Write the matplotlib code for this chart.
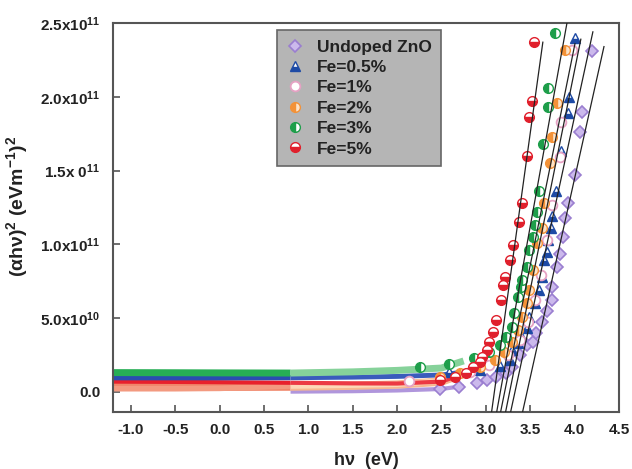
import numpy as np
import matplotlib.pyplot as plt

plt.rcParams['font.family'] = ['Liberation Sans', 'DejaVu Sans']
plt.rcParams['font.weight'] = 'bold'
plt.rcParams['mathtext.fontset'] = 'custom'
plt.rcParams['mathtext.rm'] = 'Liberation Sans:bold'
plt.rcParams['mathtext.bf'] = 'Liberation Sans:bold'
plt.rcParams['mathtext.default'] = 'bf'

# values in units of 1e10 (eV/m)^2
labels = ['Undoped ZnO', 'Fe=0.5%', 'Fe=1%', 'Fe=2%', 'Fe=3%', 'Fe=5%']

# flat, densely sampled part (drawn as thick bands)
band_x = [-1.2, -0.5, 0.0, 0.8, 1.5, 2.0, 2.5, 2.75]
band_undoped = [None, None, None, 0.02, 0.05, 0.10, 0.20, 0.40]
band_fe05 = [0.95, 0.95, 0.95, 0.96, 1.00, 1.05, 1.15, 1.35]
band_fe1 = [0.22, 0.22, 0.24, 0.40, 0.46, 0.52, 0.75, 1.20]
band_fe2 = [0.34, 0.34, 0.35, 0.36, 0.42, 0.50, 0.70, 1.25]
band_fe3 = [1.31, 1.30, 1.29, 1.28, 1.36, 1.46, 1.62, 2.10]
band_fe5 = [0.70, 0.68, 0.66, 0.62, 0.58, 0.57, 0.70, 1.20]

# absorption edge points
x_undoped = [2.48, 2.70, 2.90, 3.01, 3.12, 3.23, 3.30, 3.38, 3.46, 3.53, 3.57, 3.63, 3.69,
             3.74, 3.75, 3.80, 3.83, 3.87, 3.89, 3.92, 4.00, 4.06, 4.08, 4.20]
y_undoped = [0.20, 0.34, 0.61, 0.81, 1.02, 1.29, 1.70, 2.51, 3.19, 3.39, 4.00, 4.75, 5.49,
             6.24, 7.12, 8.48, 9.36, 10.5, 11.8, 12.8, 14.7, 17.6, 19.0, 23.1]
x_fe05 = [2.59, 2.93, 3.16, 3.27, 3.30, 3.36, 3.40, 3.46, 3.49, 3.55, 3.60, 3.63, 3.66,
          3.69, 3.70, 3.73, 3.75, 3.79, 3.85, 3.93, 3.94, 4.00]
y_fe05 = [1.36, 1.49, 1.76, 2.17, 2.85, 3.32, 3.80, 4.34, 5.09, 6.03, 6.92, 7.80, 8.95,
          9.49, 10.3, 11.1, 11.9, 13.6, 16.3, 18.9, 20.0, 24.0]
x_fe1 = [2.14, 2.48, 2.82, 3.04, 3.25, 3.38, 3.47, 3.55, 3.62, 3.69, 3.74, 3.83, 3.85, 3.97]
y_fe1 = [0.75, 0.95, 1.36, 1.83, 2.51, 3.53, 4.75, 6.24, 7.93, 10.3, 12.7, 15.9, 18.3, 23.2]
x_fe2 = [2.48, 2.71, 2.93, 3.10, 3.21, 3.30, 3.36, 3.41, 3.46, 3.49, 3.53, 3.58, 3.63,
         3.66, 3.72, 3.75, 3.80, 3.89]
y_fe2 = [1.02, 1.29, 1.70, 2.17, 2.71, 3.39, 4.20, 5.09, 6.03, 6.92, 8.27, 10.1, 11.1,
         12.8, 15.5, 17.3, 19.6, 23.2]
x_fe3 = [2.26, 2.59, 2.87, 3.04, 3.16, 3.23, 3.29, 3.32, 3.36, 3.40, 3.41, 3.46, 3.49,
         3.53, 3.55, 3.58, 3.60, 3.64, 3.70, 3.70, 3.78]
y_fe3 = [1.70, 1.90, 2.31, 2.71, 3.19, 3.73, 4.41, 5.36, 6.44, 7.12, 7.59, 8.48, 9.63,
         10.5, 11.3, 12.2, 13.6, 16.8, 19.3, 20.6, 24.3]
x_fe5 = [2.48, 2.65, 2.78, 2.85, 2.93, 2.96, 3.01, 3.04, 3.08, 3.12, 3.17, 3.19, 3.22,
         3.27, 3.31, 3.37, 3.41, 3.46, 3.49, 3.52, 3.54]
y_fe5 = [0.81, 1.02, 1.29, 1.70, 2.03, 2.37, 2.85, 3.39, 4.07, 4.88, 6.24, 7.25, 7.80,
         8.95, 9.97, 11.5, 12.8, 16.0, 18.6, 19.7, 23.7]

# linear fits: x-intercept (eV), slope (1e10 per eV), upper end of the drawn line
fit_eg = [3.096, 3.163, 3.212, 3.268, 3.328, 3.464]
fit_slope = [43.4, 33.3, 29.8, 29.8, 27.8, 27.0]
fit_top = [23.7, 25.5, 23.6, 23.9, 24.4, 23.4]

S = 1e10
fig = plt.figure(figsize=(6.32, 4.69), dpi=100)
ax = fig.add_axes([113 / 632, 57 / 469, 506 / 632, 389 / 469])

bx = np.array(band_x)


def band(vals, c_left, c_right, lw):
    v = np.array([np.nan if a is None else a for a in vals], dtype=float) * S
    left = bx <= 0.8
    right = bx >= 0.8
    ax.plot(bx[left], v[left], color=c_left, lw=lw, solid_capstyle='butt', zorder=2)
    ax.plot(bx[right], v[right], color=c_right, lw=lw, solid_capstyle='butt', zorder=2)


band(band_undoped, '#a98bd8', '#b096dc', 3)
band(band_fe2, '#f0866a', '#f7b890', 6)
band(band_fe1, '#f39a80', '#fdd9b8', 4)
band(band_fe5, '#e8202c', '#ec3a44', 3)
band(band_fe05, '#2a4db0', '#3a5cbc', 3.5)
band(band_fe3, '#27ae55', '#86d29a', 5)

ms = 7
ax.plot(x_undoped, np.array(y_undoped) * S, ls='none', marker='D', ms=6,
        mfc='#cbb9ec', mec='#9a7ed0', mew=1.2, label=labels[0], zorder=3)
ax.plot(x_fe05, np.array(y_fe05) * S, ls='none', marker='^', ms=ms, fillstyle='bottom',
        color='#1d4aa5', mfc='#1d4aa5', mfcalt='white', mec='#1d4aa5', label=labels[1], zorder=3)
ax.plot(x_fe1, np.array(y_fe1) * S, ls='none', marker='o', ms=ms,
        mfc='white', mec='#e6a2c4', mew=1.3, label=labels[2], zorder=3)
ax.plot(x_fe2, np.array(y_fe2) * S, ls='none', marker='o', ms=ms, fillstyle='left',
        mfc='#f39238', mfcalt='#fde3c8', mec='#f39238', label=labels[3], zorder=3)
ax.plot(x_fe3, np.array(y_fe3) * S, ls='none', marker='o', ms=ms, fillstyle='left',
        mfc='#1e9e4a', mfcalt='white', mec='#1e9e4a', label=labels[4], zorder=3)
ax.plot(x_fe5, np.array(y_fe5) * S, ls='none', marker='o', ms=ms, fillstyle='bottom',
        mfc='#e0202c', mfcalt='white', mec='#e0202c', label=labels[5], zorder=3)

for eg, k, top in zip(fit_eg, fit_slope, fit_top):
    yy = np.array([-2.0, top])
    ax.plot(eg + yy / k, yy * S, color='#222222', lw=0.9, zorder=4)

ax.set_xlim(-1.2, 4.5)
ax.set_ylim(-1.36e10, 2.5e11)
ax.set_xticks(np.arange(-1.0, 4.51, 0.5))
ax.set_xticklabels(['%.1f' % v for v in np.arange(-1.0, 4.51, 0.5)])
ax.set_yticks([0, 5e10, 1e11, 1.5e11, 2e11, 2.5e11])
ax.set_yticklabels(['0.0', '5.0x10$^{10}$', '1.0x10$^{11}$', '1.5x 0$^{11}$',
                    '2.0x10$^{11}$', '2.5x10$^{11}$'])
ax.tick_params(direction='in', length=5, width=1.2, color='#555555',
               labelsize=11, labelcolor='#222222')
ax.tick_params(axis='x', pad=8)
ax.tick_params(axis='y', pad=9)
for sp in ax.spines.values():
    sp.set_color('#555555')
    sp.set_linewidth(1.5)

ax.set_xlabel('h\u03bd  (eV)', fontsize=13, fontweight='bold', color='#222222')
ax.xaxis.set_label_coords(0.5, -0.102)
ax.set_ylabel('(\u03b1h\u03bd)$^{2}$ (eVm$^{-1}$)$^{2}$', fontsize=14, fontweight='bold',
              color='#222222')
ax.yaxis.set_label_coords(-0.165, 0.527)

leg = ax.legend(loc='upper left', bbox_to_anchor=(0.324, 0.982), borderaxespad=0,
                fontsize=12.5, handlelength=1.0, handletextpad=0.75, borderpad=0.55,
                labelspacing=0.3, fancybox=False, framealpha=1)
leg.get_frame().set_facecolor('#b5b5b5')
leg.get_frame().set_edgecolor('#666666')
leg.get_frame().set_linewidth(1.2)
for t in leg.get_texts():
    t.set_color('#222222')

plt.savefig('out.png', dpi=100)
